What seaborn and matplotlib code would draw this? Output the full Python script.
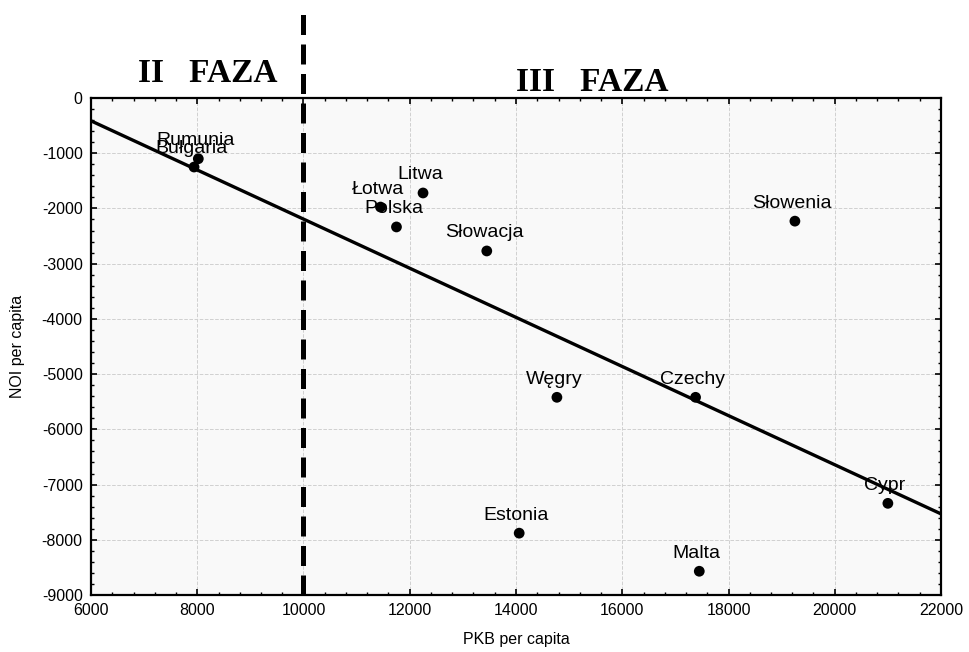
import numpy as np
import pandas as pd
import matplotlib
matplotlib.use("Agg")
import matplotlib.pyplot as plt
from matplotlib.ticker import AutoMinorLocator
import seaborn as sns

# dane: PKB per capita vs NOI per capita
kraje = ['Rumunia', 'Bułgaria', 'Łotwa', 'Polska', 'Litwa', 'Słowacja',
         'Słowenia', 'Węgry', 'Czechy', 'Cypr', 'Estonia', 'Malta']
pkb = [8020, 7940, 11450, 11750, 12250, 13450,
       19250, 14770, 17380, 21000, 14060, 17450]
noi = [-1100, -1250, -1975, -2335, -1720, -2770,
       -2230, -5420, -5420, -7340, -7880, -8570]

x_ticks = [6000, 8000, 10000, 12000, 14000, 16000, 18000, 20000, 22000]
y_ticks = [0, -1000, -2000, -3000, -4000, -5000, -6000, -7000, -8000, -9000]
granica_faz = 10000

df = pd.DataFrame({'kraj': kraje, 'pkb': pkb, 'noi': noi})

sns.set_style("ticks")
plt.rcParams['font.family'] = ['Liberation Sans', 'DejaVu Sans']
plt.rcParams['axes.unicode_minus'] = False
plt.rcParams['xtick.direction'] = 'in'
plt.rcParams['ytick.direction'] = 'in'
plt.rcParams['text.color'] = 'black'
plt.rcParams['axes.labelcolor'] = 'black'
plt.rcParams['xtick.color'] = 'black'
plt.rcParams['ytick.color'] = 'black'

fig = plt.figure(figsize=(9.7, 6.52), dpi=100)
ax = fig.add_axes([91/970, 1-595/652, (941-91)/970, (595-98)/652])
ax.set_facecolor('#f9f9f9')

ax.set_xlim(6000, 22000)
ax.set_ylim(-9000, 0)

sns.regplot(data=df, x='pkb', y='noi', ax=ax, ci=None, truncate=False,
            scatter_kws={'s': 60, 'color': 'black', 'alpha': 1,
                         'edgecolors': 'none', 'zorder': 4},
            line_kws={'color': 'black', 'lw': 2.4, 'zorder': 3})

for _, r in df.iterrows():
    ax.annotate(r['kraj'], xy=(r['pkb'], r['noi']), xytext=(-2, 13),
                textcoords='offset points', ha='center', va='center',
                fontsize=14, color='black', zorder=5)

# granica faz
ax.axvline(granica_faz, ymin=0, ymax=1.171, color='black', lw=3.6,
           linestyle=(0, (4, 1.9)), clip_on=False, zorder=6)

ax.set_xticks(x_ticks)
ax.set_yticks(y_ticks)
ax.xaxis.set_minor_locator(AutoMinorLocator(5))
ax.yaxis.set_minor_locator(AutoMinorLocator(5))
ax.tick_params(which='major', length=4, width=1.2, top=True, right=True,
               labelsize=11.5, pad=6, colors='black')
ax.tick_params(which='minor', length=2.2, width=1.0, top=True, right=True,
               colors='black')
ax.grid(True, which='major', color='#d0d0d0', linestyle='--', lw=0.7)
ax.set_axisbelow(True)
for s in ax.spines.values():
    s.set_linewidth(1.6)
    s.set_color('black')

ax.set_xlabel('PKB per capita', fontsize=11.5, labelpad=10)
ax.set_ylabel('NOI per capita', fontsize=11.5, labelpad=12)

fig.text(208/970, 1-82/652, 'II   FAZA', ha='center', va='baseline',
         fontsize=24, fontweight='bold', family='Liberation Serif', color='black')
fig.text(592/970, 1-91/652, 'III   FAZA', ha='center', va='baseline',
         fontsize=24, fontweight='bold', family='Liberation Serif', color='black')

plt.savefig('out.png', dpi=100)
